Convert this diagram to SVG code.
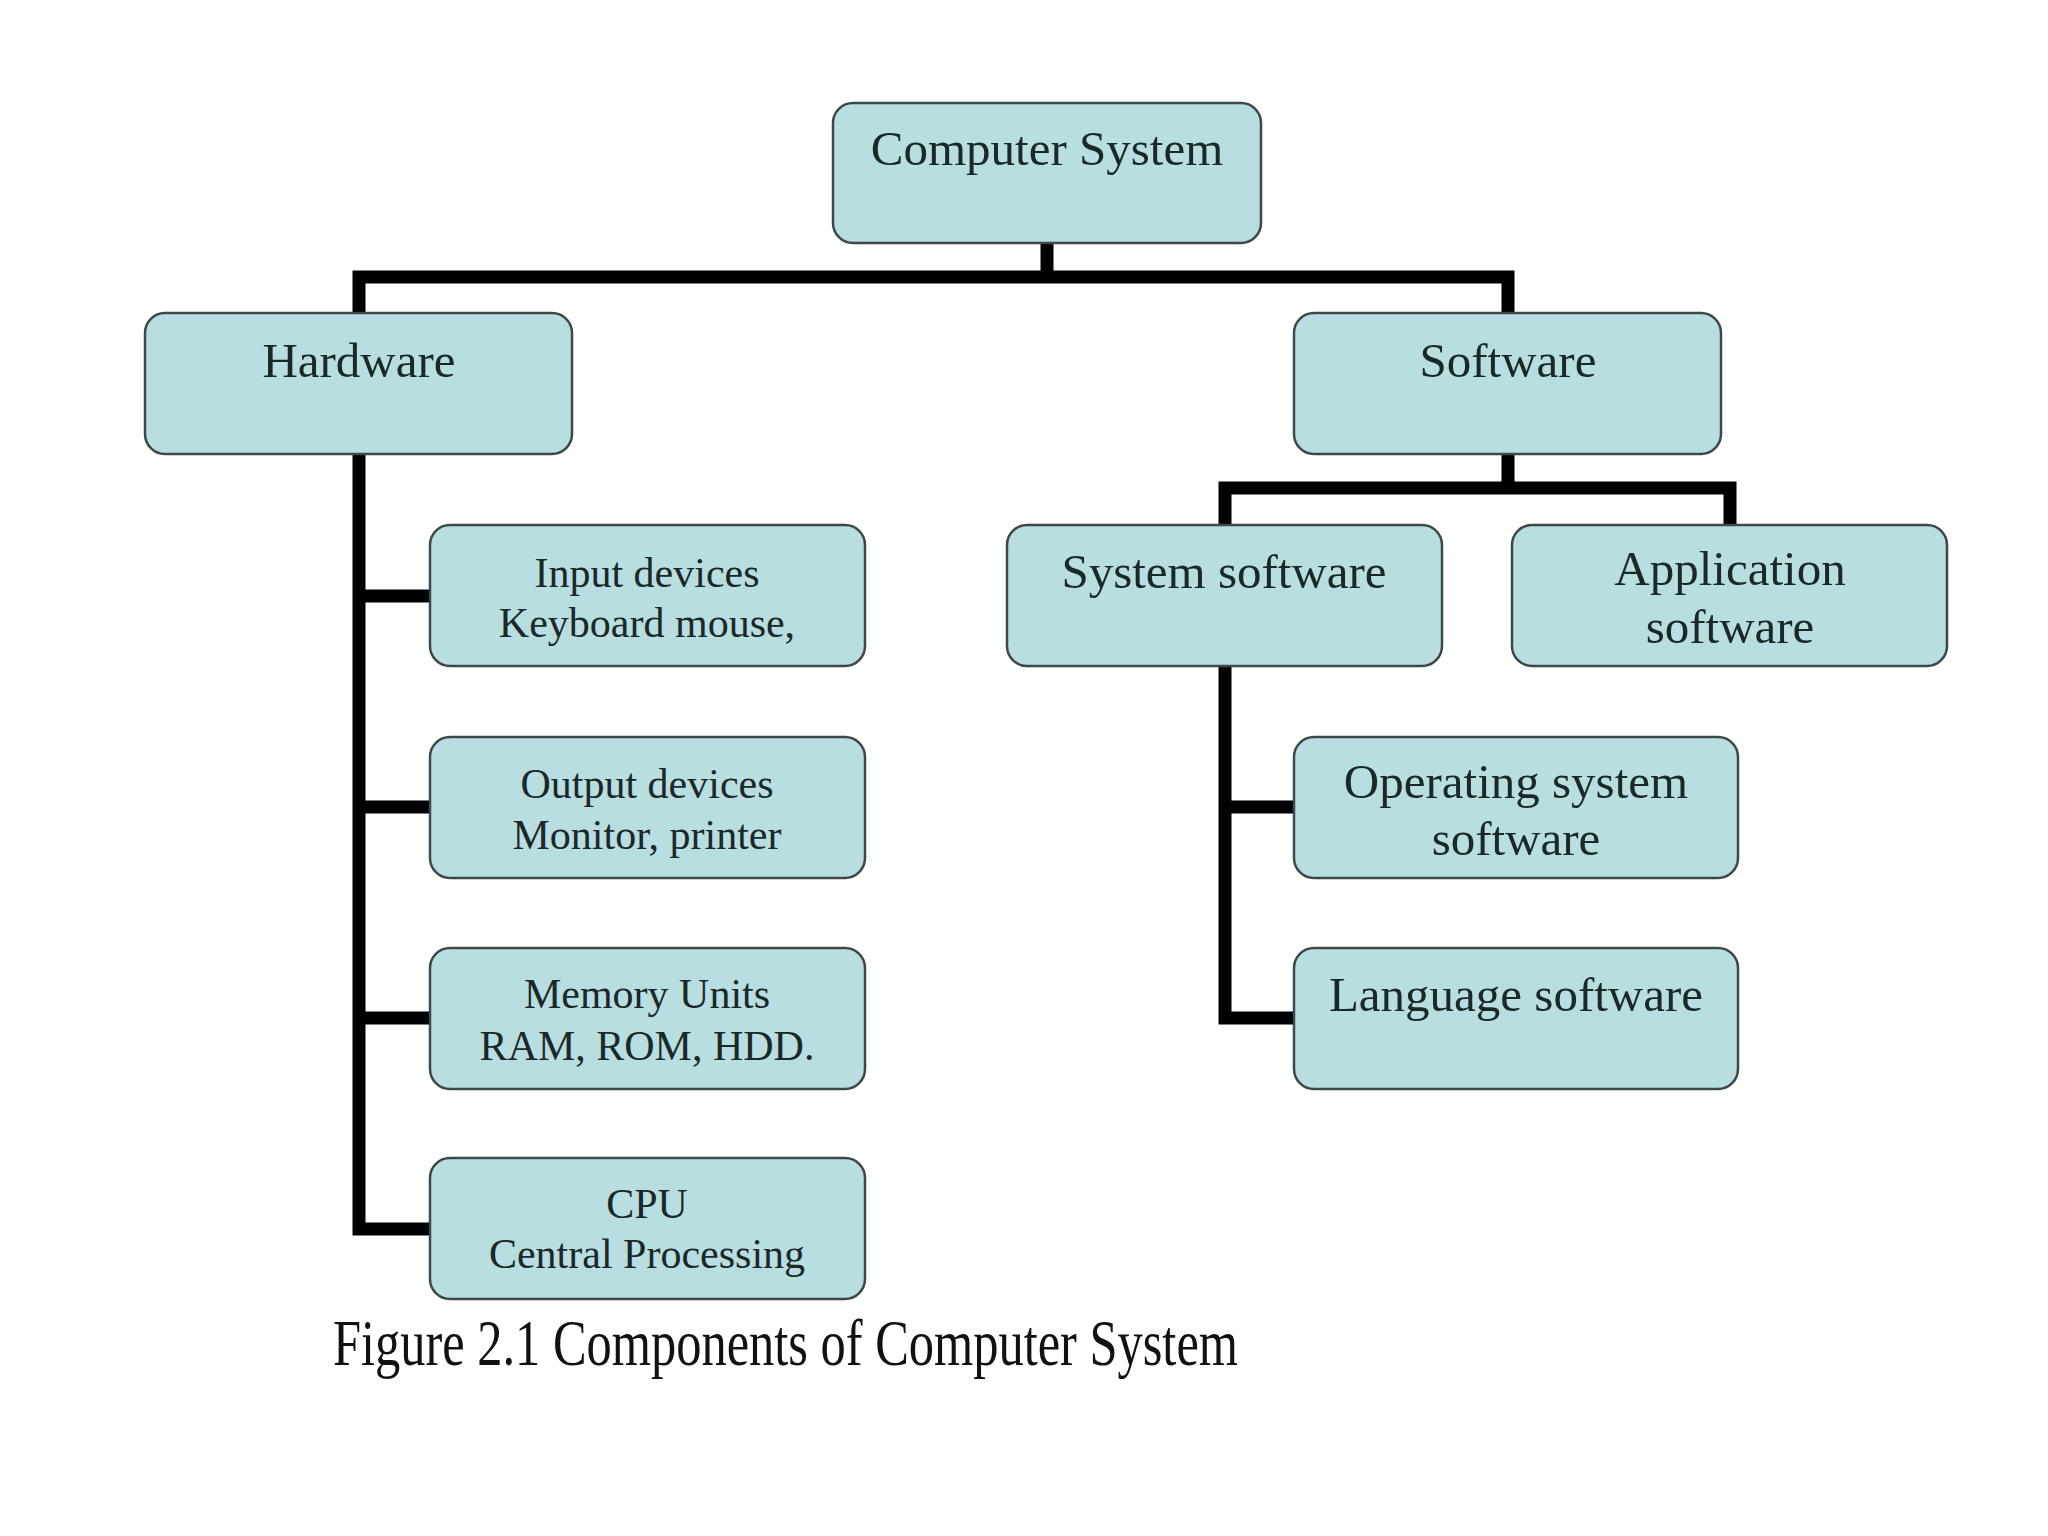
<svg xmlns="http://www.w3.org/2000/svg" width="2048" height="1536" viewBox="0 0 2048 1536">
<style>
.box{fill:#b8dee2;stroke:#3e4848;stroke-width:2.5}
.t{font-family:"Liberation Serif","Times New Roman",serif;fill:#1a2828;text-anchor:middle}
.big{font-size:49px}
.sm{font-size:42px}
.cap{font-family:"Liberation Serif","Times New Roman",serif;fill:#111;font-size:66px}
.c{fill:none;stroke:#000;stroke-width:13;stroke-linejoin:miter;stroke-linecap:butt}
</style>
<rect width="2048" height="1536" fill="#fff"/>
<g id="connectors">
<path class="c" d="M1047 243 V277"/>
<path class="c" d="M359 313 V277 H1508 V313"/>
<path class="c" d="M359 455 V1229 H430"/>
<path class="c" d="M359 596 H430"/>
<path class="c" d="M359 807 H430"/>
<path class="c" d="M359 1018 H430"/>
<path class="c" d="M1508 455 V488"/>
<path class="c" d="M1225 525 V488 H1730 V525"/>
<path class="c" d="M1225 666 V1018 H1294"/>
<path class="c" d="M1225 807 H1294"/>
</g>
<g id="computer-system">
<rect class="box" x="833" y="103" width="428" height="140" rx="20"/>
<text class="t big" x="1047" y="165" font-size="50">Computer System</text>
</g>
<g id="hardware">
<rect class="box" x="145" y="313" width="427" height="141" rx="20"/>
<text class="t big" x="359" y="377">Hardware</text>
</g>
<g id="software">
<rect class="box" x="1294" y="313" width="427" height="141" rx="20"/>
<text class="t big" x="1508" y="377">Software</text>
</g>
<g id="input-devices">
<rect class="box" x="430" y="525" width="435" height="141" rx="20"/>
<text class="t sm" x="647" y="587">Input devices</text>
<text class="t sm" x="647" y="637">Keyboard mouse,</text>
</g>
<g id="output-devices">
<rect class="box" x="430" y="737" width="435" height="141" rx="20"/>
<text class="t sm" x="647" y="798">Output devices</text>
<text class="t sm" x="647" y="849">Monitor, printer</text>
</g>
<g id="memory-units">
<rect class="box" x="430" y="948" width="435" height="141" rx="20"/>
<text class="t sm" x="647" y="1008">Memory Units</text>
<text class="t sm" x="647" y="1060">RAM, ROM, HDD.</text>
</g>
<g id="cpu">
<rect class="box" x="430" y="1158" width="435" height="141" rx="20"/>
<text class="t sm" x="647" y="1218">CPU</text>
<text class="t sm" x="647" y="1268">Central Processing</text>
</g>
<g id="system-software">
<rect class="box" x="1007" y="525" width="435" height="141" rx="20"/>
<text class="t big" x="1224" y="588">System software</text>
</g>
<g id="application-software">
<rect class="box" x="1512" y="525" width="435" height="141" rx="20"/>
<text class="t big" x="1730" y="585">Application</text>
<text class="t big" x="1730" y="643">software</text>
</g>
<g id="operating-system-software">
<rect class="box" x="1294" y="737" width="444" height="141" rx="20"/>
<text class="t big" x="1516" y="798">Operating system</text>
<text class="t big" x="1516" y="855">software</text>
</g>
<g id="language-software">
<rect class="box" x="1294" y="948" width="444" height="141" rx="20"/>
<text class="t big" x="1516" y="1011">Language software</text>
</g>
<text class="cap" x="333" y="1365" textLength="905" lengthAdjust="spacingAndGlyphs">Figure 2.1 Components of Computer System</text>
</svg>
